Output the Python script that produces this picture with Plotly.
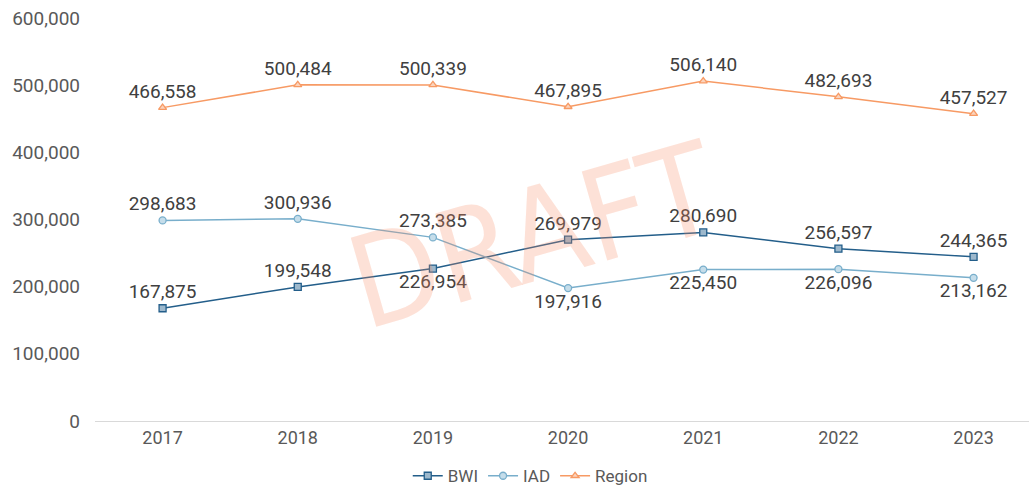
import plotly.graph_objects as go

years = ["2017", "2018", "2019", "2020", "2021", "2022", "2023"]
bwi = [167875, 199548, 226954, 269979, 280690, 256597, 244365]
iad = [298683, 300936, 273385, 197916, 225450, 226096, 213162]
region = [466558, 500484, 500339, 467895, 506140, 482693, 457527]

bwi_pos = ["top center", "top center", "bottom center", "top center", "top center", "top center", "top center"]
iad_pos = ["top center", "top center", "top center", "bottom center", "bottom center", "bottom center", "bottom center"]
reg_pos = ["top center"] * 7

FONT = "Roboto"
TXT = "#595959"
LBL = "#404040"

def fmt(v):
    return f"{v:,}"

fig = go.Figure()
series = [
    ("BWI", bwi, bwi_pos, "#235E8A", "square", "#9DB8CC"),
    ("IAD", iad, iad_pos, "#78AECB", "circle", "#C5DDEA"),
    ("Region", region, reg_pos, "#F79A64", "triangle-up", "#FBD3BC"),
]
for name, vals, pos, col, sym, fill in series:
    fig.add_trace(go.Scatter(
        x=years, y=vals, name=name, mode="lines+markers+text",
        text=[fmt(v) for v in vals], textposition=pos,
        textfont=dict(family=FONT, size=19, color=LBL),
        line=dict(color=col, width=1.5),
        marker=dict(symbol=sym, size=7, color=fill, line=dict(color=col, width=1.3)),
        cliponaxis=False,
    ))

fig.add_annotation(
    text="DRAFT", x=0.469, y=0.46, xref="paper", yref="paper",
    showarrow=False, textangle=-16,
    font=dict(family="Liberation Sans Narrow, DejaVu Sans Condensed, sans-serif",
              size=127, color="rgba(248,140,100,0.26)"),
)

fig.update_layout(
    width=1029, height=485,
    margin=dict(l=95, r=0, t=18, b=64, autoexpand=False),
    plot_bgcolor="white", paper_bgcolor="white",
    font=dict(family=FONT, color=TXT, size=17),
    showlegend=True,
    legend=dict(orientation="h", x=0.466, xanchor="center", y=-0.137, yanchor="middle",
                font=dict(family=FONT, size=17, color=TXT), itemwidth=30),
    xaxis=dict(type="category", range=[-0.5, 6.41], showgrid=False, showline=True,
               linecolor="#D9D9D9", linewidth=1, ticks="", zeroline=False,
               automargin=False,
               tickfont=dict(family=FONT, size=18, color=TXT)),
    yaxis=dict(range=[0, 600000], tickvals=[0, 100000, 200000, 300000, 400000, 500000, 600000],
               tickformat=",", showgrid=False, zeroline=False, showline=False, ticks="",
               ticklabelstandoff=14, automargin=False,
               tickfont=dict(family=FONT, size=19, color=TXT)),
)

fig.write_html("out.html", config={"displayModeBar": False},
               post_script="document.body.style.margin='0';")
